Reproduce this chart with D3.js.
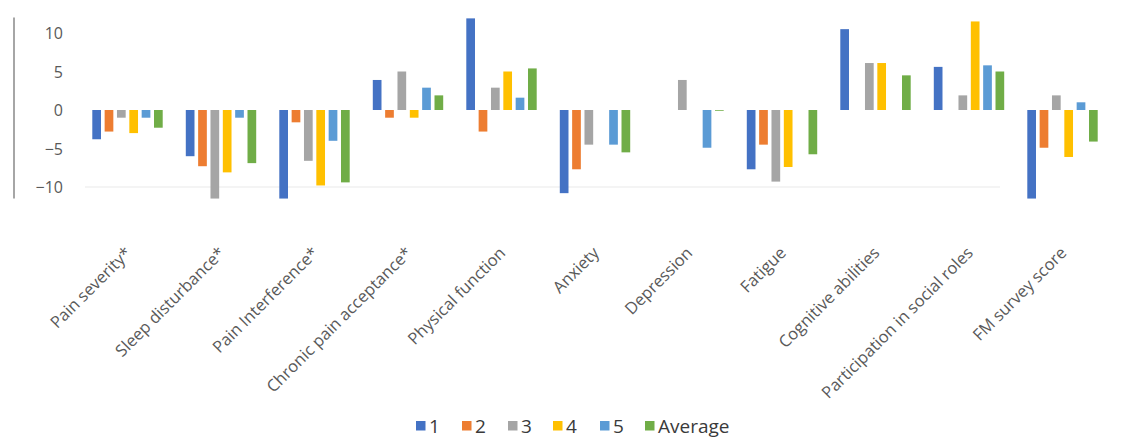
<!DOCTYPE html>
<html>
<head>
<meta charset="utf-8">
<script src="https://cdn.jsdelivr.net/npm/d3@7"></script>
<style>
  body { margin: 0; background: #fff; }
  text { font-family: "Open Sans", "Noto Sans", sans-serif; }
</style>
</head>
<body>
<div id="chart"></div>
<script>
// categorias del eje x
var categories = ["Pain severity*", "Sleep disturbance*", "Pain Interference*",
  "Chronic pain acceptance*", "Physical function", "Anxiety", "Depression",
  "Fatigue", "Cognitive abilities", "Participation in social roles", "FM survey score"];

// una lista por serie, en el mismo orden que categories
var serie1 = [-3.8, -6.0, -11.5, 3.9, 11.9, -10.8, 0, -7.7, 10.5, 5.6, -11.5];
var serie2 = [-2.8, -7.3, -1.6, -1.0, -2.8, -7.7, 0, -4.5, 0, 0, -4.9];
var serie3 = [-1.0, -11.5, -6.6, 5.0, 2.9, -4.5, 3.9, -9.3, 6.1, 1.9, 1.9];
var serie4 = [-3.0, -8.1, -9.8, -1.0, 5.0, 0, 0, -7.4, 6.1, 11.5, -6.1];
var serie5 = [-1.0, -1.0, -4.0, 2.9, 1.6, -4.5, -4.9, 0, 0, 5.8, 1.0];
var average = [-2.3, -6.9, -9.4, 1.9, 5.4, -5.5, -0.1, -5.75, 4.5, 5.0, -4.1];

var seriesNames = ["1", "2", "3", "4", "5", "Average"];
var seriesValues = [serie1, serie2, serie3, serie4, serie5, average];
var yTicks = [-10, -5, 0, 5, 10];

function pickColor(name){
  var col;
  switch(name){
    case "1": col = "#4472C4"; break;
    case "2": col = "#ED7D31"; break;
    case "3": col = "#A5A5A5"; break;
    case "4": col = "#FFC000"; break;
    case "5": col = "#5B9BD5"; break;
    case "Average": col = "#70AD47"; break;
  }
  return col;
}

var w = 1134;
var h = 439;

var svg = d3.select("#chart").append("svg")
  .attr("width", w)
  .attr("height", h);

// escalas
var x0 = d3.scaleBand()
  .domain(categories)
  .range([80.75, 1109.25])
  .paddingInner(0.247)
  .paddingOuter(0.1235);

var x1 = d3.scaleBand()
  .domain(seriesNames)
  .range([0, x0.bandwidth()])
  .paddingInner(0.295)
  .paddingOuter(0);

var y = d3.scaleLinear()
  .domain([-12, 12])
  .range([202.4, 17.6]);

// linea vertical a la izquierda
svg.append("line")
  .attr("x1", 14).attr("x2", 14)
  .attr("y1", y(12)).attr("y2", y(-11.5))
  .attr("stroke", "#a6a6a6")
  .attr("stroke-width", 2);

// linea tenue en -10
svg.append("line")
  .attr("x1", 85).attr("x2", 1000)
  .attr("y1", y(-10)).attr("y2", y(-10))
  .attr("stroke", "#f1f1f1")
  .attr("stroke-width", 1.5);

// eje y (solo etiquetas)
var yAxis = d3.axisLeft(y).tickValues(yTicks).tickSize(0).tickPadding(0);
var gy = svg.append("g")
  .attr("transform", "translate(63,0)")
  .call(yAxis);
gy.select(".domain").remove();
gy.selectAll("text")
  .attr("fill", "#595959")
  .style("font-size", "16px")
  .attr("dy", "0.35em");

// barras: un grupo por categoria
var rows = categories.map(function(c, i){
  return { cat: c, vals: seriesNames.map(function(s, j){ return { name: s, v: seriesValues[j][i] }; }) };
});

var groups = svg.selectAll("g.grupo")
  .data(rows)
  .enter()
  .append("g")
  .attr("class", "grupo")
  .attr("transform", function(d){ return "translate(" + x0(d.cat) + ",0)"; });

groups.selectAll("rect")
  .data(function(d){ return d.vals; })
  .enter()
  .append("rect")
  .attr("x", function(d){ return x1(d.name); })
  .attr("width", x1.bandwidth())
  .attr("y", function(d){ return Math.min(y(d.v), y(0)); })
  .attr("height", function(d){ return Math.abs(y(d.v) - y(0)); })
  .attr("fill", function(d){ return pickColor(d.name); });

// etiquetas de categoria giradas
svg.selectAll("text.cat")
  .data(categories)
  .enter()
  .append("text")
  .attr("class", "cat")
  .attr("text-anchor", "end")
  .attr("transform", function(d){
    return "translate(" + (x0(d) + x0.bandwidth() / 2 + 5) + ",254) rotate(-45)";
  })
  .attr("fill", "#595959")
  .style("font-size", "16.5px")
  .text(function(d){ return d; });

// leyenda
var legX = [416, 462, 508, 553, 600, 645];
var leg = svg.selectAll("g.leg")
  .data(seriesNames)
  .enter()
  .append("g")
  .attr("class", "leg")
  .attr("transform", function(d, i){ return "translate(" + legX[i] + ",421)"; });
leg.append("rect")
  .attr("width", 9.5)
  .attr("height", 9.5)
  .attr("fill", function(d){ return pickColor(d); });
leg.append("text")
  .attr("x", 13)
  .attr("y", 5)
  .attr("dy", "0.35em")
  .attr("fill", "#3a3a3a")
  .style("font-size", "19px")
  .text(function(d){ return d; });
</script>
</body>
</html>
